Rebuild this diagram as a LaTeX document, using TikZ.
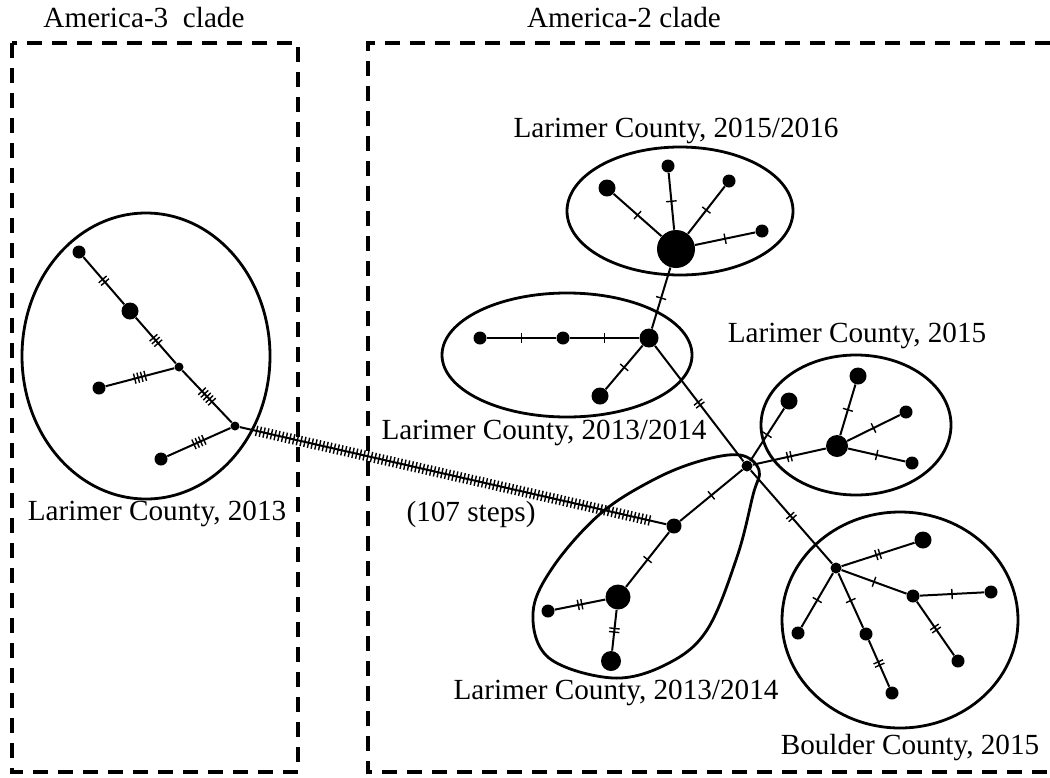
\documentclass[tikz,border=0pt]{standalone}
\usepackage{fontspec}
\setmainfont{Liberation Serif}
\usetikzlibrary{decorations.markings}

\tikzset{
  hap/.style={circle,fill=black,inner sep=0pt,minimum size=#1pt},
  ticks/.style 2 args={postaction={decorate,decoration={markings,
    mark=at position .5 with {\foreach \k in {1,...,#1}
      \draw[line width=.7pt] ({(\k-(#1+1)/2)*#2},-2.6pt) -- ++(0,5.2pt);}}}},
  mut/.style={ticks={#1}{1.8pt}},
  edge/.style={line width=1pt},
  blob/.style={line width=1.4pt},
  cladebox/.style={line width=2.2pt,dash pattern=on 7.5pt off 5pt},
  lbl/.style={inner sep=0pt,font=\fontsize{14.6}{17}\selectfont}
}

\begin{document}
\begin{tikzpicture}[x=0.5pt,y=-0.5pt]
  \useasboundingbox (0,0) rectangle (1050,777);
  % clade boxes
  \draw[cladebox] (12,43) rectangle (298,772);
  \draw[cladebox] (1050,43) -- (368,43) -- (368,772) -- (1050,772);
  \node[lbl] (t3) at (144,18) {America-3\ \ clade};
  \node[lbl] (t2) at (624,18) {America-2 clade};

  % America-3 haplotypes
  \node[hap=6.5] (a1) at (79,252) {};
  \node[hap=8.5] (a2) at (130,311) {};
  \node[hap=4.5] (a3) at (179,367) {};
  \node[hap=6.5] (a4) at (99,388) {};
  \node[hap=4.5] (a5) at (235,426) {};
  \node[hap=6.5] (a6) at (161,459) {};
  \draw[edge,mut=2] (a1) -- (a2);
  \draw[edge,mut=3] (a2) -- (a3);
  \draw[edge,mut=4] (a3) -- (a4);
  \draw[edge,mut=5] (a3) -- (a5);
  \draw[edge,mut=4] (a5) -- (a6);
  \draw[blob] (146,356) ellipse [x radius=124, y radius=143];

  % America-2 haplotypes
  \node[hap=5.5] (x) at (747,466) {};
  \node[hap=19] (c0) at (676,249) {};
  \node[hap=8.5] (c1) at (607,188) {};
  \node[hap=6.5] (c2) at (668,166) {};
  \node[hap=6.5] (c3) at (729,181) {};
  \node[hap=6.5] (c4) at (762,231) {};
  \node[hap=9.5] (d0) at (649,338) {};
  \node[hap=6.5] (d1) at (563,338) {};
  \node[hap=6.5] (d2) at (480,338) {};
  \node[hap=8.5] (d3) at (600,396) {};
  \node[hap=7.5] (b1) at (674,526) {};
  \node[hap=12.5] (b2) at (618,597) {};
  \node[hap=6.5] (b3) at (548,611) {};
  \node[hap=10] (b4) at (611,661) {};
  \node[hap=11] (e0) at (837,446) {};
  \node[hap=8.5] (e1) at (789,401) {};
  \node[hap=8.5] (e2) at (858,376) {};
  \node[hap=6.5] (e3) at (906,412) {};
  \node[hap=6.5] (e4) at (912,463) {};
  \node[hap=5.5] (f0) at (836,568) {};
  \node[hap=8.5] (f1) at (923,540) {};
  \node[hap=6.5] (f2) at (913,596) {};
  \node[hap=6.5] (f3) at (991,592) {};
  \node[hap=6.5] (f4) at (958,661) {};
  \node[hap=6.5] (f5) at (798,633) {};
  \node[hap=6.5] (f6) at (866,634) {};
  \node[hap=6.5] (f7) at (892,693) {};

  \draw[edge,mut=1] (c0) -- (c1);
  \draw[edge,mut=1] (c0) -- (c2);
  \draw[edge,mut=1] (c0) -- (c3);
  \draw[edge,mut=1] (c0) -- (c4);
  \draw[edge,mut=1] (c0) -- (d0);
  \draw[edge,mut=1] (d0) -- (d1);
  \draw[edge,mut=1] (d1) -- (d2);
  \draw[edge,mut=1] (d0) -- (d3);
  \draw[edge,mut=2] (d0) -- (x);
  \draw[edge,mut=1] (x) -- (b1);
  \draw[edge,mut=1] (b1) -- (b2);
  \draw[edge,mut=2] (b2) -- (b3);
  \draw[edge,mut=2] (b2) -- (b4);
  \draw[edge,mut=2] (x) -- (e0);
  \draw[edge,mut=1] (x) -- (e1);
  \draw[edge,mut=1] (e0) -- (e2);
  \draw[edge,mut=1] (e0) -- (e3);
  \draw[edge,mut=1] (e0) -- (e4);
  \draw[edge,mut=2] (x) -- (f0);
  \draw[edge,mut=2] (f0) -- (f1);
  \draw[edge,mut=1] (f0) -- (f2);
  \draw[edge,mut=1] (f2) -- (f3);
  \draw[edge,mut=2] (f2) -- (f4);
  \draw[edge,mut=1] (f0) -- (f5);
  \draw[edge,mut=1] (f0) -- (f6);
  \draw[edge,mut=2] (f6) -- (f7);

  % long branch between clades
  \draw[edge,ticks={107}{1.9pt}] (a5) -- (b1);

  % groups
  \draw[blob] (680,211) ellipse [x radius=113, y radius=64];
  \draw[blob] (567,355) ellipse [x radius=125, y radius=62];
  \draw[blob] (856,425) ellipse [x radius=95, y radius=70];
  \draw[blob] (900,620) ellipse [x radius=118, y radius=108];
  \draw[blob] plot[smooth cycle,tension=.6] coordinates {(740,455) (700,461)
    (653,480) (600,514) (553,567) (533,613) (549,658) (613,678) (667,664)
    (707,630) (737,557) (753,495) (759,470)};

  % labels
  \node[lbl] (l1) at (157,514) {Larimer County, 2013};
  \node[lbl] (l2) at (676,131) {Larimer County, 2015/2016};
  \node[lbl] (l3) at (857,336) {Larimer County, 2015};
  \node[lbl] (l4) at (544,433) {Larimer County, 2013/2014};
  \node[lbl] (l5) at (471,514) {(107 steps)};
  \node[lbl] (l6) at (616,693) {Larimer County, 2013/2014};
  \node[lbl] (l7) at (910,748) {Boulder County, 2015};
\end{tikzpicture}
\end{document}
